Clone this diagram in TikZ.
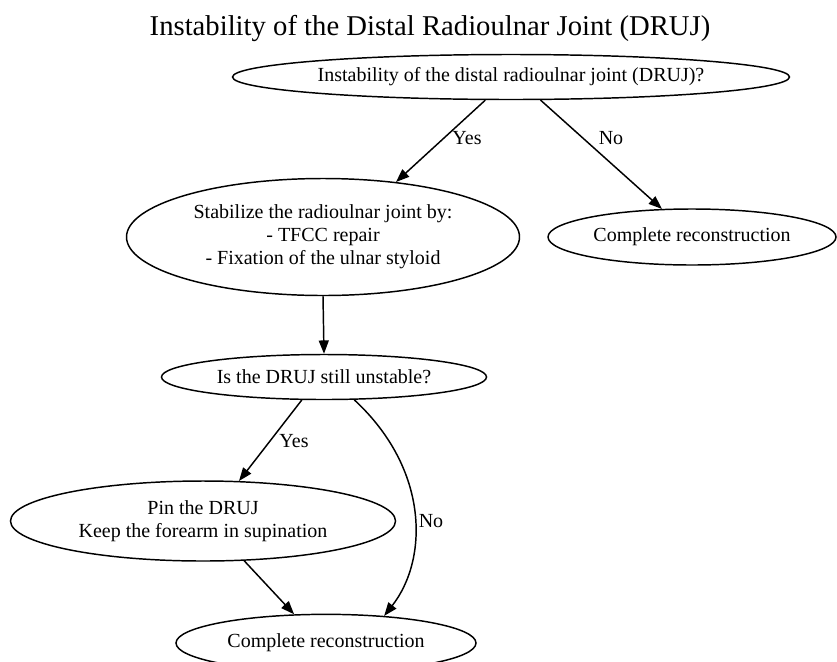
\documentclass[tikz,border=0pt]{standalone}
\usepackage{fontspec}
\setmainfont{Liberation Serif}
\usepackage{tikz}
\usetikzlibrary{shapes.geometric, arrows.meta}

\tikzset{
  state/.style={draw, ellipse, line width=1.1pt, inner sep=0pt, align=center,
    font=\fontsize{15}{17.25}\selectfont},
  edge/.style={line width=1.1pt, -{Triangle[length=10pt, width=7.5pt]}},
  lbl/.style={font=\fontsize{15}{17.25}\selectfont, inner sep=0pt}
}

\begin{document}
\begin{tikzpicture}[x=0.75pt, y=-0.75pt]
      \useasboundingbox (0,0) rectangle (837,661);

      \node [font=\fontsize{21.5}{26}\selectfont] (T) at (430, 28) {Instability of the Distal Radioulnar Joint (DRUJ)};

      \node [state, minimum width=417.75pt, minimum height=33.75pt] (Q1) at (511, 77) {Instability of the distal radioulnar joint (DRUJ)?};
      \node [state, minimum width=294.75pt, minimum height=87.75pt] (S1) at (323, 237) {Stabilize the radioulnar joint by:\\- TFCC repair\\- Fixation of the ulnar styloid};
      \node [state, minimum width=216pt, minimum height=42pt] (CR1) at (692, 237) {Complete reconstruction};
      \node [state, minimum width=243.75pt, minimum height=33.75pt] (Q2) at (324, 377) {Is the DRUJ still unstable?};
      \node [state, minimum width=288.75pt, minimum height=60pt] (P1) at (203, 521) {Pin the DRUJ\\Keep the forearm in supination};
      \node [state, minimum width=225pt, minimum height=43pt] (CR2) at (326, 643) {Complete reconstruction};

      \draw [edge] (Q1.-138) -- (S1.37);
      \node [lbl] (Y1) at (467, 138) {Yes};

      \draw [edge] (Q1.-38) -- (CR1.137);
      \node [lbl] (N1) at (611, 138) {No};

      \draw [edge] (S1.south) -- (Q2.north);

      \draw [edge] (Q2.-134) -- (P1.48);
      \node [lbl] (Y2) at (294, 441) {Yes};

      \draw [edge] (Q2.-37) .. controls (430, 470) and (428, 560) .. (CR2.25);
      \node [lbl] (N2) at (431, 521) {No};

      \draw [edge] (P1.-44) -- (CR2.138);
    \end{tikzpicture}
\end{document}
